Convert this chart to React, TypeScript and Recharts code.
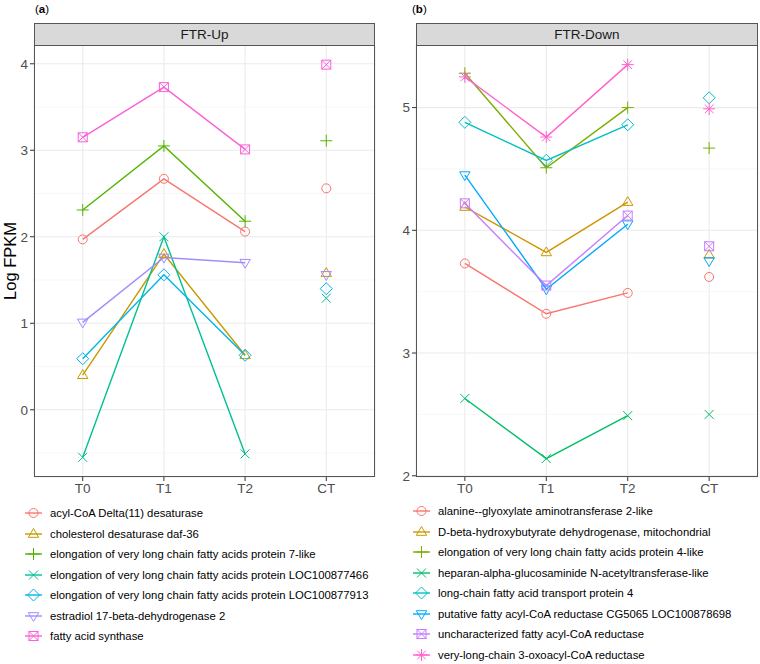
import React from "react";
import { LineChart, Line, XAxis, YAxis, CartesianGrid, ReferenceLine } from "recharts";

const CATEGORIES = ["T0", "T1", "T2", "CT"];

// FTR-Up (panel a), values at T0, T1, T2, CT
const UP_NAMES = [
  "acyl-CoA Delta(11) desaturase",
  "cholesterol desaturase daf-36",
  "elongation of very long chain fatty acids protein 7-like",
  "elongation of very long chain fatty acids protein LOC100877466",
  "elongation of very long chain fatty acids protein LOC100877913",
  "estradiol 17-beta-dehydrogenase 2",
  "fatty acid synthase",
];
const upAcylCoA = [1.97, 2.67, 2.06, 2.56];
const upCholesterol = [0.4, 1.8, 0.63, 1.58];
const upElong7 = [2.31, 3.05, 2.18, 3.11];
const upElong466 = [-0.55, 2.0, -0.51, 1.29];
const upElong913 = [0.59, 1.56, 0.63, 1.4];
const upEstradiol = [1.01, 1.76, 1.7, 1.56];
const upFattyAcid = [3.15, 3.73, 3.01, 3.99];
const UP_VALUES = [upAcylCoA, upCholesterol, upElong7, upElong466, upElong913, upEstradiol, upFattyAcid];
const UP_COLORS = ["#F8766D", "#C49A00", "#53B400", "#00C094", "#00B6EB", "#A58AFF", "#FB61D7"];
const UP_TICKS = [0, 1, 2, 3, 4];
const UP_MINOR = [-0.5, 0.5, 1.5, 2.5, 3.5];

// FTR-Down (panel b)
const DOWN_NAMES = [
  "alanine--glyoxylate aminotransferase 2-like",
  "D-beta-hydroxybutyrate dehydrogenase, mitochondrial",
  "elongation of very long chain fatty acids protein 4-like",
  "heparan-alpha-glucosaminide N-acetyltransferase-like",
  "long-chain fatty acid transport protein 4",
  "putative fatty acyl-CoA reductase CG5065 LOC100878698",
  "uncharacterized fatty acyl-CoA reductase",
  "very-long-chain 3-oxoacyl-CoA reductase",
];
const downAlanine = [3.73, 3.32, 3.49, 3.62];
const downDBeta = [4.19, 3.82, 4.23, 3.8];
const downElong4 = [5.28, 4.51, 5.0, 4.67];
const downHeparan = [2.63, 2.14, 2.49, 2.5];
const downTransport = [4.88, 4.57, 4.86, 5.08];
const downPutative = [4.45, 3.52, 4.05, 3.75];
const downUncharacterized = [4.22, 3.55, 4.12, 3.87];
const downVeryLong = [5.25, 4.76, 5.35, 4.99];
const DOWN_VALUES = [
  downAlanine, downDBeta, downElong4, downHeparan,
  downTransport, downPutative, downUncharacterized, downVeryLong,
];
const DOWN_COLORS = ["#F8766D", "#CD9600", "#7CAE00", "#00BE67", "#00BFC4", "#00A9FF", "#C77CFF", "#FF61CC"];
const DOWN_TICKS = [2, 3, 4, 5];
const DOWN_MINOR = [2.5, 3.5, 4.5];

const FONT = "'Liberation Sans', Arial, Helvetica, sans-serif";
const BORDER = "#555";

// ggplot open shapes 1..8
function Shape({ shape, x, y, color }: { shape: number; x: number; y: number; color: string }) {
  const p = { fill: "none", stroke: color, strokeWidth: 1 };
  switch (shape) {
    case 0:
      return <circle cx={x} cy={y} r={4.5} {...p} />;
    case 1:
      return <polygon points={`${x},${y - 5.5} ${x + 5.2},${y + 3.3} ${x - 5.2},${y + 3.3}`} {...p} />;
    case 2:
      return <path d={`M${x - 6},${y}H${x + 6}M${x},${y - 6}V${y + 6}`} {...p} />;
    case 3:
      return <path d={`M${x - 4.5},${y - 4.5}L${x + 4.5},${y + 4.5}M${x - 4.5},${y + 4.5}L${x + 4.5},${y - 4.5}`} {...p} />;
    case 4:
      return <polygon points={`${x},${y - 6} ${x + 6},${y} ${x},${y + 6} ${x - 6},${y}`} {...p} />;
    case 5:
      return <polygon points={`${x},${y + 5.5} ${x + 5.2},${y - 3.3} ${x - 5.2},${y - 3.3}`} {...p} />;
    case 6:
      return (
        <g {...p}>
          <rect x={x - 4.5} y={y - 4.5} width={9} height={9} />
          <path d={`M${x - 4.5},${y - 4.5}L${x + 4.5},${y + 4.5}M${x - 4.5},${y + 4.5}L${x + 4.5},${y - 4.5}`} />
        </g>
      );
    default:
      return (
        <path
          d={`M${x - 6},${y}H${x + 6}M${x},${y - 6}V${y + 6}M${x - 4.3},${y - 4.3}L${x + 4.3},${y + 4.3}M${x - 4.3},${y + 4.3}L${x + 4.3},${y - 4.3}`}
          {...p}
        />
      );
  }
}

function makeDot(shape: number, color: string) {
  return (props: any) => {
    const { cx, cy, index } = props;
    if (cx == null || cy == null || isNaN(cy)) return <g key={`d${index}`} />;
    return (
      <g key={`d${index}`}>
        <Shape shape={shape} x={cx} y={cy} color={color} />
      </g>
    );
  };
}

type PanelProps = {
  left: number;
  width: number;
  yWidth: number;
  rightMargin: number;
  values: number[][];
  colors: string[];
  ticks: number[];
  minor: number[];
  domain: [number, number];
  title: string;
};

function Panel({ left, width, yWidth, rightMargin, values, colors, ticks, minor, domain, title }: PanelProps) {
  const rows = CATEGORIES.map((c, i) => {
    const row: Record<string, number | string | null> = { x: i + 1, cat: c };
    values.forEach((v, s) => {
      row[`l${s}`] = i < 3 ? v[i] : null;
      row[`p${s}`] = i === 3 ? v[i] : null;
    });
    return row;
  });
  const plotLeft = left + yWidth;
  const plotWidth = width - yWidth - rightMargin;
  return (
    <>
      <div style={{ position: "absolute", left, top: 0, width, height: 500 }}>
        <LineChart width={width} height={500} data={rows} margin={{ top: 45, right: rightMargin, left: 0, bottom: 0 }}>
          <CartesianGrid stroke="#EBEBEB" strokeWidth={1.1} />
          {minor.map((m) => (
            <ReferenceLine key={m} y={m} stroke="#F2F2F2" strokeWidth={0.6} />
          ))}
          <XAxis
            dataKey="x"
            type="number"
            domain={[0.4, 4.6]}
            ticks={[1, 2, 3, 4]}
            tickFormatter={(v: number) => CATEGORIES[v - 1]}
            height={23}
            axisLine={false}
            tickSize={4}
            tickMargin={2}
            tickLine={{ stroke: "#333" }}
            tick={{ fill: "#4D4D4D", fontSize: 13.5, fontFamily: FONT }}
            allowDataOverflow
          />
          <YAxis
            type="number"
            domain={domain}
            ticks={ticks}
            width={yWidth}
            axisLine={false}
            tickSize={4}
            tickMargin={2}
            tickLine={{ stroke: "#333" }}
            tick={{ fill: "#4D4D4D", fontSize: 13.5, fontFamily: FONT }}
            allowDataOverflow
          />
          {values.map((_, s) => (
            <Line
              key={`l${s}`}
              dataKey={`l${s}`}
              stroke={colors[s]}
              strokeWidth={1.4}
              dot={makeDot(s, colors[s])}
              activeDot={false}
              isAnimationActive={false}
            />
          ))}
          {values.map((_, s) => (
            <Line
              key={`p${s}`}
              dataKey={`p${s}`}
              stroke="none"
              dot={makeDot(s, colors[s])}
              activeDot={false}
              isAnimationActive={false}
            />
          ))}
        </LineChart>
      </div>
      <div
        style={{
          position: "absolute",
          left: plotLeft,
          top: 23,
          width: plotWidth,
          height: 454,
          border: `1px solid ${BORDER}`,
          boxSizing: "border-box",
          pointerEvents: "none",
        }}
      />
      <div
        style={{
          position: "absolute",
          left: plotLeft,
          top: 23,
          width: plotWidth,
          height: 23,
          background: "#D9D9D9",
          border: `1px solid ${BORDER}`,
          boxSizing: "border-box",
          fontSize: 13.5,
          color: "#1A1A1A",
          textAlign: "center",
          lineHeight: "21px",
          fontFamily: FONT,
        }}
      >
        {title}
      </div>
    </>
  );
}

function Legend({ left, top, names, colors }: { left: number; top: number; names: string[]; colors: string[] }) {
  return (
    <div style={{ position: "absolute", left, top, fontFamily: FONT, fontSize: 11.3, color: "#000" }}>
      {names.map((n, i) => (
        <div key={n} style={{ display: "flex", alignItems: "center", height: 20.5 }}>
          <svg width={17} height={20} style={{ marginRight: 8 }}>
            <line x1={0} x2={17} y1={10} y2={10} stroke={colors[i]} strokeWidth={1.4} />
            <Shape shape={i} x={8.5} y={10} color={colors[i]} />
          </svg>
          <span style={{ whiteSpace: "nowrap" }}>{n}</span>
        </div>
      ))}
    </div>
  );
}

export default function App() {
  return (
    <div style={{ position: "absolute", left: 0, top: 0, width: 760, height: 664, background: "#fff", fontFamily: FONT }}>
      <div style={{ position: "absolute", left: 35, top: 3, fontSize: 11.5 }}>
        (<b>a</b>)
      </div>
      <div style={{ position: "absolute", left: 412, top: 3, fontSize: 11.5 }}>
        (<b>b</b>)
      </div>
      <div
        style={{
          position: "absolute",
          left: 10,
          top: 261,
          fontSize: 16.5,
          color: "#000",
          transform: "translate(-50%, -50%) rotate(-90deg)",
          whiteSpace: "nowrap",
        }}
      >
        Log FPKM
      </div>
      <Panel
        left={0}
        width={380}
        yWidth={34}
        rightMargin={5}
        values={UP_VALUES}
        colors={UP_COLORS}
        ticks={UP_TICKS}
        minor={UP_MINOR}
        domain={[-0.777, 4.217]}
        title="FTR-Up"
      />
      <Panel
        left={380}
        width={380}
        yWidth={36}
        rightMargin={2}
        values={DOWN_VALUES}
        colors={DOWN_COLORS}
        ticks={DOWN_TICKS}
        minor={DOWN_MINOR}
        domain={[1.99, 5.51]}
        title="FTR-Down"
      />
      <Legend left={25} top={503} names={UP_NAMES} colors={UP_COLORS} />
      <Legend left={413} top={501} names={DOWN_NAMES} colors={DOWN_COLORS} />
    </div>
  );
}
